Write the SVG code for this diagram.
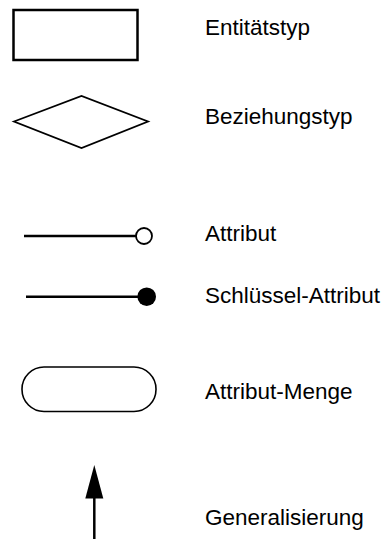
<svg xmlns="http://www.w3.org/2000/svg" width="385" height="539" viewBox="0 0 385 539">
  <style>
    .label { font-family: "Liberation Sans", Arial, sans-serif; font-size: 22.5px; fill: #000; }
    .shape { fill: #fff; stroke: #000; }
    .edge { stroke: #000; stroke-width: 2.5; fill: none; }
  </style>
  <rect width="385" height="539" fill="#fff"/>

  <g id="entitaetstyp">
    <rect class="shape" x="13.5" y="10" width="124" height="50" stroke-width="2.5"/>
    <text class="label" x="205" y="35">Entitätstyp</text>
  </g>

  <g id="beziehungstyp">
    <polygon class="shape" points="14,121.5 81.5,96 148,121.5 81.5,148" stroke-width="1.8"/>
    <text class="label" x="205" y="124">Beziehungstyp</text>
  </g>

  <g id="attribut">
    <line x1="24" y1="236" x2="136" y2="236" stroke="#000" stroke-width="2.5"/>
    <circle class="shape" cx="144" cy="236" r="8" stroke-width="1.8"/>
    <text class="label" x="205" y="241">Attribut</text>
  </g>

  <g id="schluessel-attribut">
    <line x1="26" y1="296.7" x2="140" y2="296.7" stroke="#000" stroke-width="2.5"/>
    <circle cx="146.7" cy="296.7" r="9.3" fill="#000"/>
    <text class="label" x="205" y="303">Schlüssel-Attribut</text>
  </g>

  <g id="attribut-menge">
    <rect class="shape" x="22" y="367" width="134" height="44.5" rx="22" ry="22" stroke-width="1.6"/>
    <text class="label" x="205" y="399">Attribut-Menge</text>
  </g>

  <g id="generalisierung">
    <text class="label" x="205" y="525">Generalisierung</text>
  </g>

  <g id="connectors">
    <path class="edge" d="M94.3,539 L94.3,498"/>
    <polygon points="94.3,465 103.3,498.5 85.3,498.5" fill="#000"/>
  </g>
</svg>
